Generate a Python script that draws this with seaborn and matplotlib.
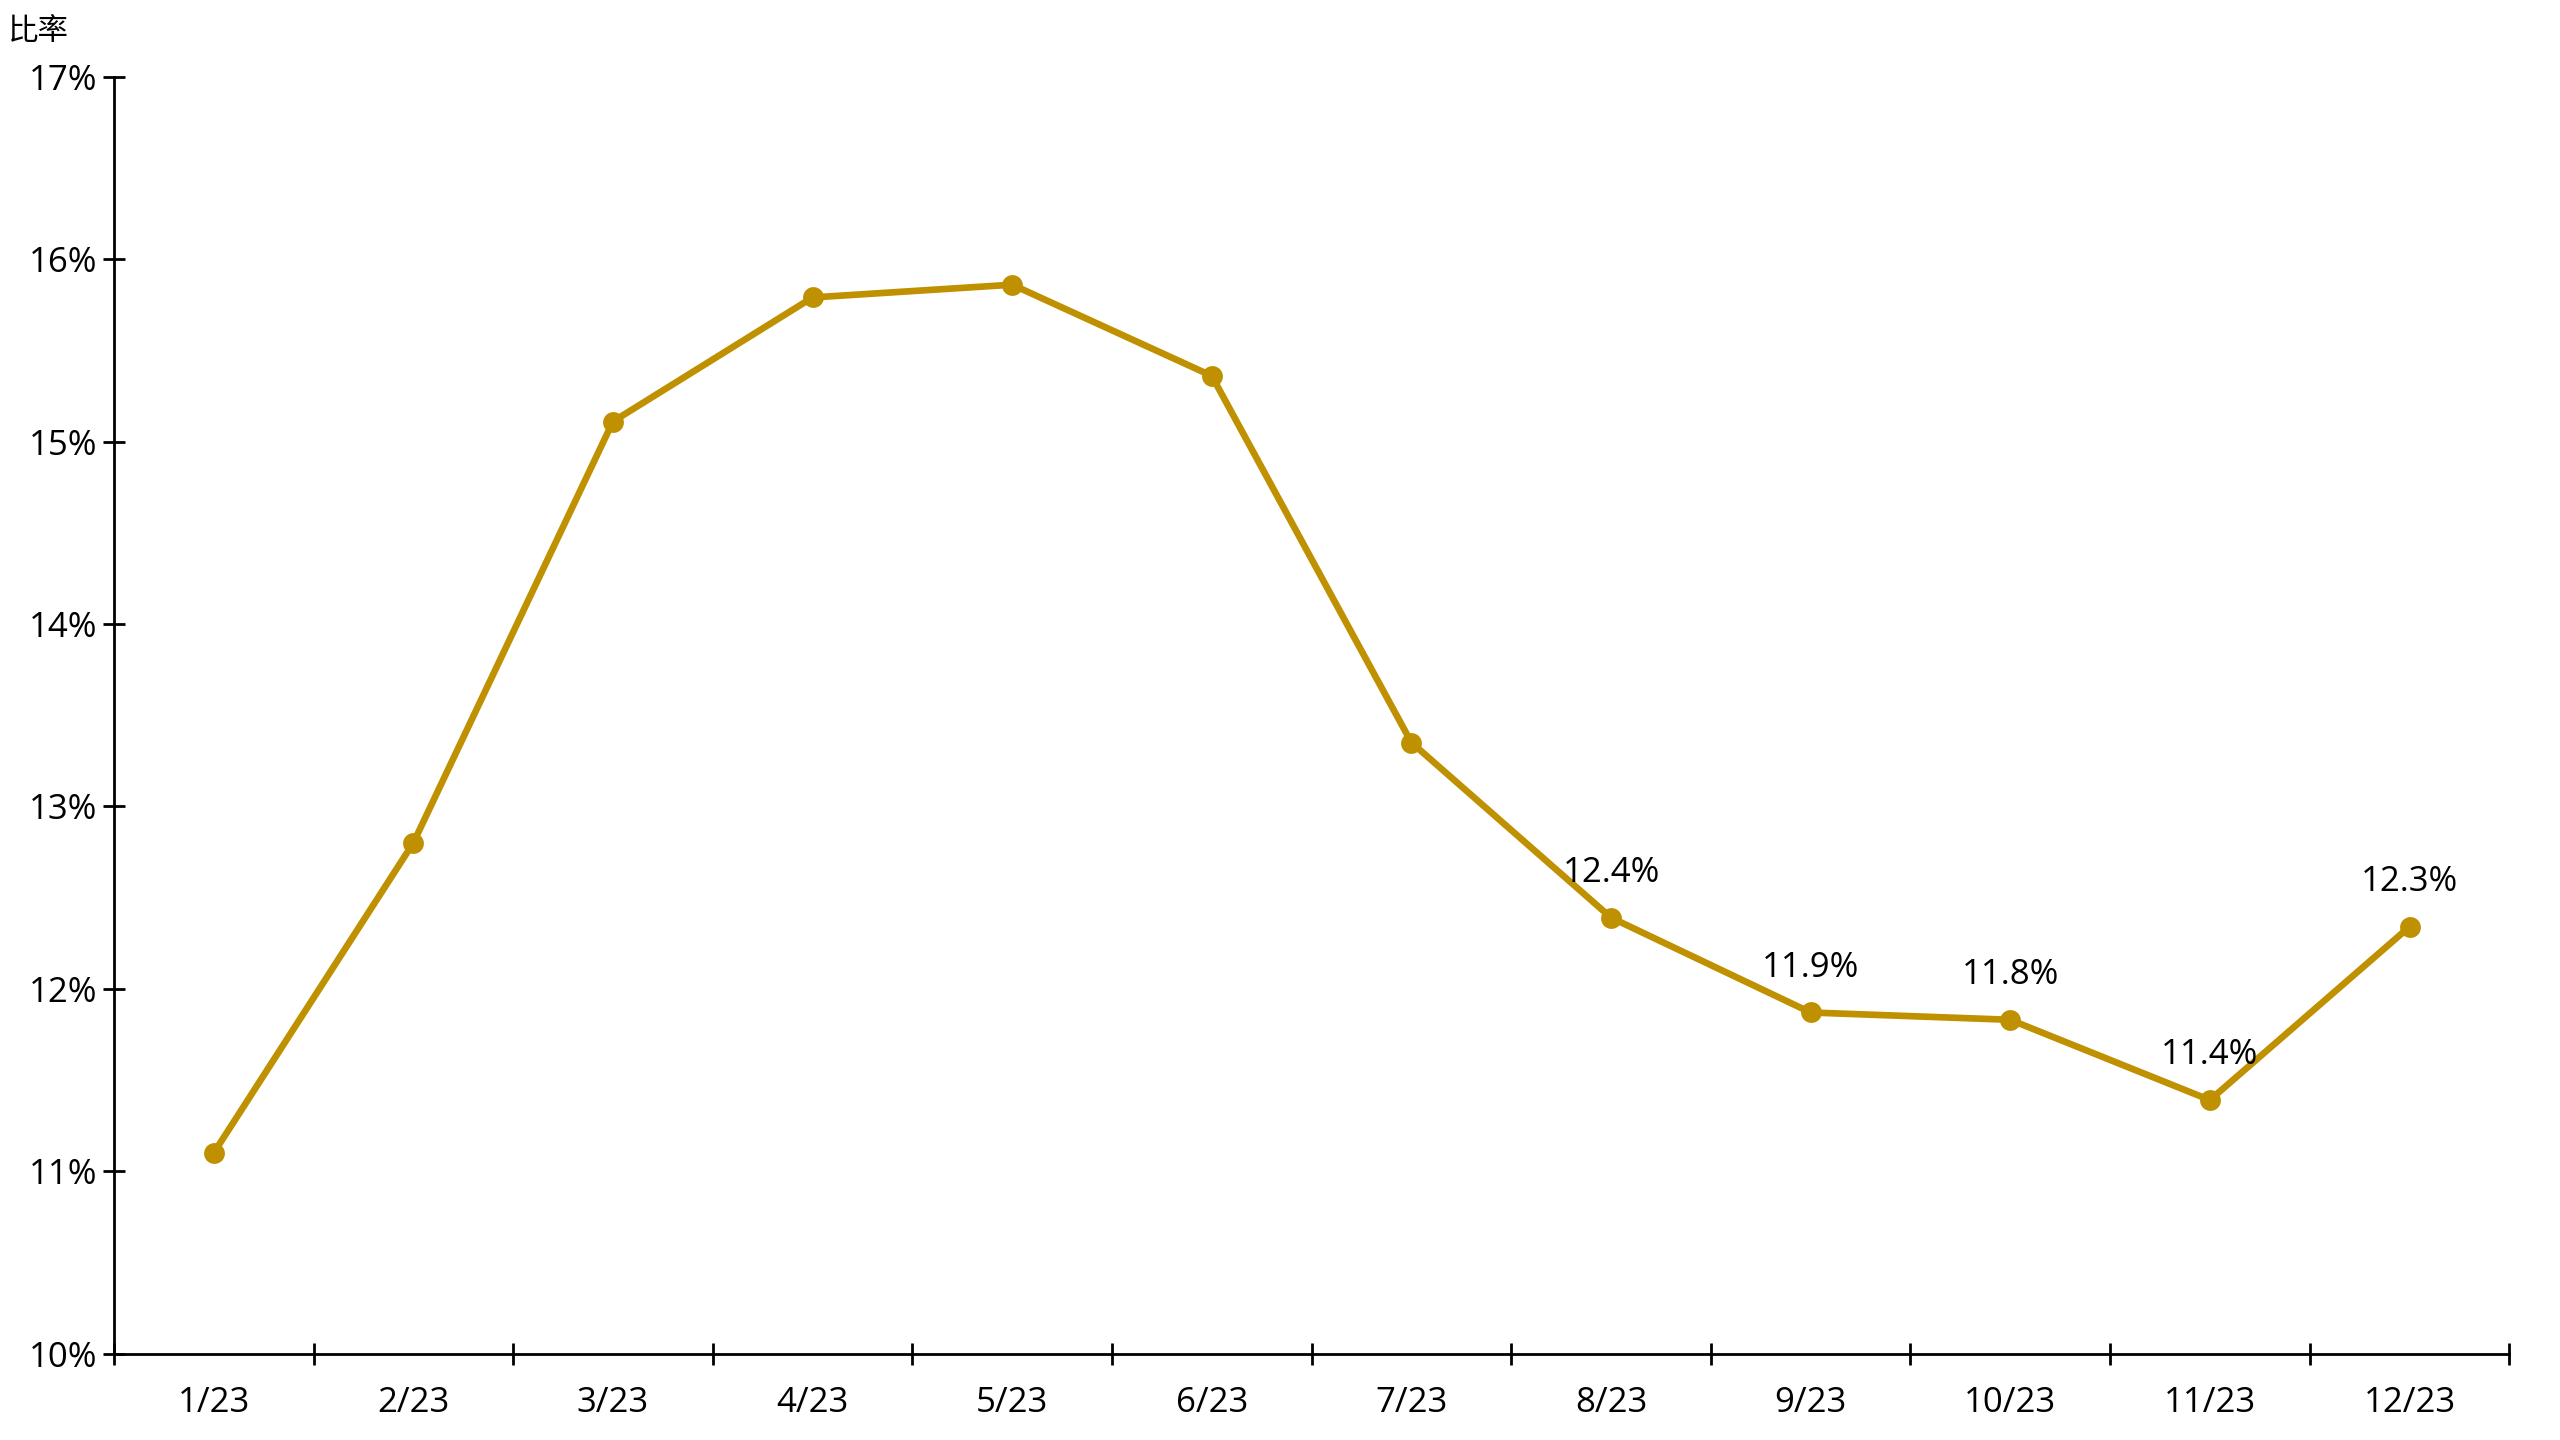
import matplotlib.pyplot as plt
import matplotlib.ticker as mticker
import pandas as pd
import seaborn as sns

sns.set_style('white')
plt.rcParams['font.family'] = ['Open Sans', 'Noto Sans CJK TC', 'DejaVu Sans']
plt.rcParams['text.color'] = 'black'
plt.rcParams['xtick.color'] = 'black'
plt.rcParams['ytick.color'] = 'black'

months = ['1/23', '2/23', '3/23', '4/23', '5/23', '6/23',
          '7/23', '8/23', '9/23', '10/23', '11/23', '12/23']
rates = [11.10, 12.80, 15.11, 15.79, 15.86, 15.36,
         13.35, 12.39, 11.87, 11.83, 11.39, 12.34]
labelled = ['8/23', '9/23', '10/23', '11/23', '12/23']

GOLD = '#BF9000'


def main():
    df = pd.DataFrame({'month': months, 'rate': rates})
    df['pos'] = range(len(df))

    fig = plt.figure(figsize=(25.6, 14.4), dpi=100)
    ax = fig.add_axes([0.0445, 0.060, 0.9357, 0.8867])

    sns.lineplot(data=df, x='pos', y='rate', ax=ax, color=GOLD,
                 linewidth=4.8, marker='o', markersize=15,
                 markeredgewidth=0)

    # data labels for the later months
    for _, row in df[df['month'].isin(labelled)].iterrows():
        ax.annotate(f"{row['rate']:.1f}%", (row['pos'], row['rate']),
                    xytext=(0, 20), textcoords='offset points',
                    ha='center', va='bottom', fontsize=25)

    ax.set_xlim(-0.5, len(months) - 0.5)
    ax.set_ylim(10, 17)
    ax.set_xticks(df['pos'])
    ax.set_xticklabels(months)
    ax.xaxis.set_minor_locator(mticker.FixedLocator(
        [i + 0.5 for i in range(-1, len(months))]))
    ax.tick_params(axis='x', which='major', length=0, pad=23, labelsize=25)
    ax.tick_params(axis='x', which='minor', length=16, width=2,
                   direction='inout', color='black', bottom=True)
    ax.yaxis.set_major_locator(mticker.MultipleLocator(1))
    ax.yaxis.set_major_formatter(mticker.FuncFormatter(lambda v, p: f'{v:.0f}%'))
    ax.tick_params(axis='y', length=16, width=2, direction='inout',
                   color='black', labelsize=25, pad=4, left=True)

    for side in ['top', 'right']:
        ax.spines[side].set_visible(False)
    for side in ['left', 'bottom']:
        ax.spines[side].set_color('black')
        ax.spines[side].set_linewidth(2)

    ax.set_xlabel('')
    ax.set_ylabel('')
    fig.text(0.003, 0.978, '比率', fontsize=22, ha='left', va='center',
             family=['Noto Sans CJK TC', 'DejaVu Sans'])

    plt.savefig('out.png')


if __name__ == '__main__':
    main()
